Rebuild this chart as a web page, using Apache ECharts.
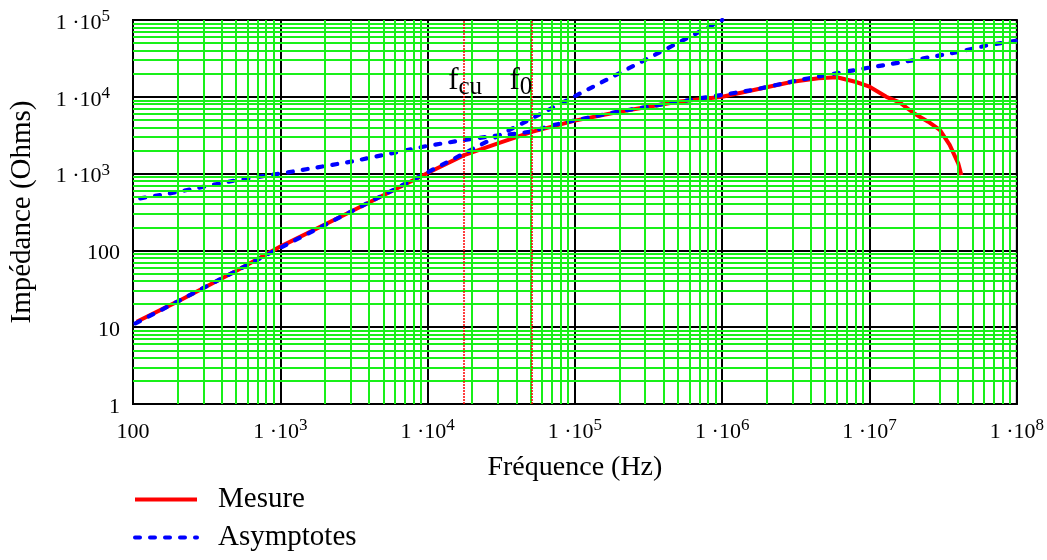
<!DOCTYPE html>
<html><head><meta charset="utf-8">
<script src="https://cdn.jsdelivr.net/npm/echarts@6/dist/echarts.min.js"></script>
<style>html,body{margin:0;padding:0;background:#fff}#c{width:1047px;height:560px}</style>
</head><body><div id="c"></div>
<script>
const FONT = '"Liberation Serif", "Times New Roman", serif';

// Mesure (measured impedance)
const mesureFreq = [106, 200, 500, 1000, 3000, 10000, 17700, 30000, 51000, 100000, 200000, 500000, 1e6, 2e6, 3e6, 4.5e6, 6e6, 8e6, 1e7, 1.3e7, 1.6e7, 2e7, 2.5e7, 3e7, 3.5e7, 4e7, 4.2e7];
const mesureZ    = [11.8, 21.5, 54, 112, 319, 1020, 1740, 2480, 3500, 4900, 6400, 8630, 10000, 13300, 15700, 17400, 17950, 15700, 13550, 10000, 8470, 6100, 4740, 3700, 2360, 1360, 960];

// Asymptotes (two branches)
const asymAFreq = [104, 1000, 10000, 100000, 1e6];
const asymAZ    = [11.2, 108, 1040, 10200, 1e5];
const asymBFreq = [112, 184, 513, 1000, 3020, 10000, 17700, 28000, 40000, 51000, 68000, 103000, 196000, 500000, 1e6, 1.63e6, 3.36e6, 5.6e6, 8.5e6, 1.86e7, 4.1e7, 6.4e7, 1e8];
const asymBZ    = [476, 559, 826, 1000, 1430, 2300, 2740, 3090, 3300, 3550, 4200, 5000, 6400, 8600, 10600, 12300, 16600, 19800, 22800, 29300, 38700, 47200, 54000];

// Characteristic frequencies
const markerNames = ['cu', '0'];
const markerFreq  = [17700, 51000];
const markerLabelZ = [16000, 16000];

// Axis ranges (decades)
const xMinExp = 2, xMaxExp = 8;
const yMinExp = 0, yMaxExp = 5;

function zip(a, b) { return a.map((v, i) => [v, b[i]]); }
function minorValues(e0, e1) {
  const out = [];
  for (let e = e0; e < e1; e++) for (let m = 2; m <= 9; m++) out.push(m * Math.pow(10, e));
  return out;
}
const minorX = minorValues(xMinExp, xMaxExp);
const minorY = minorValues(yMinExp, yMaxExp);

const richBase = { fontSize: 22, fontFamily: FONT, color: '#000' };
const richSup = { fontSize: 17, fontFamily: FONT, color: '#000', padding: [0, 0, 13, 0] };
function xTickLabel(v) {
  const e = Math.round(Math.log10(v));
  if (e <= 2) return '{b|' + Math.round(Math.pow(10, e)) + '}{s|\u200b}';
  return '{b|1 ·10}{s|' + e + '}';
}
function yTickLabel(v) {
  const e = Math.round(Math.log10(v));
  if (e <= 2) return '{b|' + Math.round(Math.pow(10, e)) + '}';
  return '{b|1 ·10}{s|' + e + '}';
}

const chart = echarts.init(document.getElementById('c'), null, { renderer: 'canvas' });
const blueDash = { color: '#0000ff', width: 4.2, type: [5, 10], cap: 'round' };

chart.setOption({
  animation: false,
  backgroundColor: '#fff',
  grid: { left: 131, right: 29, top: 20, bottom: 156, show: true, borderColor: '#000', borderWidth: 2, backgroundColor: 'transparent', z: 1 },
  legend: {
    data: ['Mesure', 'Asymptotes'],
    orient: 'vertical', left: 128, top: 480,
    itemWidth: 62, itemHeight: 14, itemGap: 9,
    itemStyle: { opacity: 0 },
    lineStyle: { width: 4 },
    textStyle: { fontFamily: FONT, fontSize: 29, color: '#000', padding: [0, 0, 0, 16] },
    inactiveColor: '#999'
  },
  xAxis: {
    type: 'log', logBase: 10, min: Math.pow(10, xMinExp), max: Math.pow(10, xMaxExp), splitNumber: xMaxExp - xMinExp,
    z: 1,
    axisLine: { lineStyle: { color: '#000', width: 2 } },
    axisTick: { show: false },
    splitLine: { show: true, lineStyle: { color: '#000', width: 2 } },
    axisLabel: { formatter: xTickLabel, margin: 13, rich: { b: richBase, s: richSup } },
    name: 'Fréquence (Hz)', nameLocation: 'middle', nameGap: 50,
    nameTextStyle: { fontFamily: FONT, fontSize: 28, color: '#000' }
  },
  yAxis: {
    type: 'log', logBase: 10, min: Math.pow(10, yMinExp), max: Math.pow(10, yMaxExp), splitNumber: yMaxExp - yMinExp,
    z: 1,
    axisLine: { lineStyle: { color: '#000', width: 2 } },
    axisTick: { show: false },
    splitLine: { show: true, lineStyle: { color: '#000', width: 2 } },
    axisLabel: { formatter: yTickLabel, margin: 13, padding: [6, 0, 0, 0], rich: { b: richBase, s: Object.assign({}, richSup, { padding: [0, 10, 13, 0] }) } },
    name: 'Impédance (Ohms)', nameLocation: 'middle', nameGap: 96,
    nameTextStyle: { fontFamily: FONT, fontSize: 29, color: '#000' }
  },
  series: [
    {
      name: '_grid', type: 'line', data: [[100, 1]], symbol: 'none', lineStyle: { opacity: 0 }, z: 0, silent: true,
      markLine: {
        silent: true, symbol: ['none', 'none'], label: { show: false }, animation: false,
        lineStyle: { color: '#19f019', width: 2, type: 'solid' },
        emphasis: { disabled: true },
        data: minorX.map(v => ({ xAxis: v })).concat(minorY.map(v => ({ yAxis: v })))
      }
    },
    {
      name: 'Mesure', type: 'line', data: zip(mesureFreq, mesureZ), symbol: 'none', z: 3,
      lineStyle: { color: '#ff0000', width: 4 }, itemStyle: { color: '#ff0000' },
      markLine: {
        silent: true, symbol: ['none', 'none'], label: { show: false }, animation: false,
        lineStyle: { color: '#ff0000', width: 1.5, type: [2, 1] },
        data: markerFreq.map(f => ({ xAxis: f }))
      },
      markPoint: {
        silent: true, symbol: 'circle', symbolSize: 0, animation: false,
        label: {
          show: true, position: 'inside', color: '#000',
          rich: {
            f: { fontFamily: FONT, fontSize: 31, color: '#000' },
            sub: { fontFamily: FONT, fontSize: 25, color: '#000', padding: [12, 0, 0, 0] }
          }
        },
        data: markerNames.map((n, i) => ({
          coord: [markerFreq[i], markerLabelZ[i]],
          label: { formatter: '{f|f}{sub|' + n + '}', offset: [i === 0 ? 1 : -11, 0] }
        }))
      }
    },
    {
      name: 'Asymptotes', type: 'line', data: zip(asymAFreq, asymAZ), symbol: 'none', z: 4,
      lineStyle: blueDash, itemStyle: { color: '#0000ff' }
    },
    {
      name: 'Asymptotes', type: 'line', data: zip(asymBFreq, asymBZ), symbol: 'none', z: 4,
      lineStyle: blueDash, itemStyle: { color: '#0000ff' }
    }
  ]
});
</script>
</body></html>
